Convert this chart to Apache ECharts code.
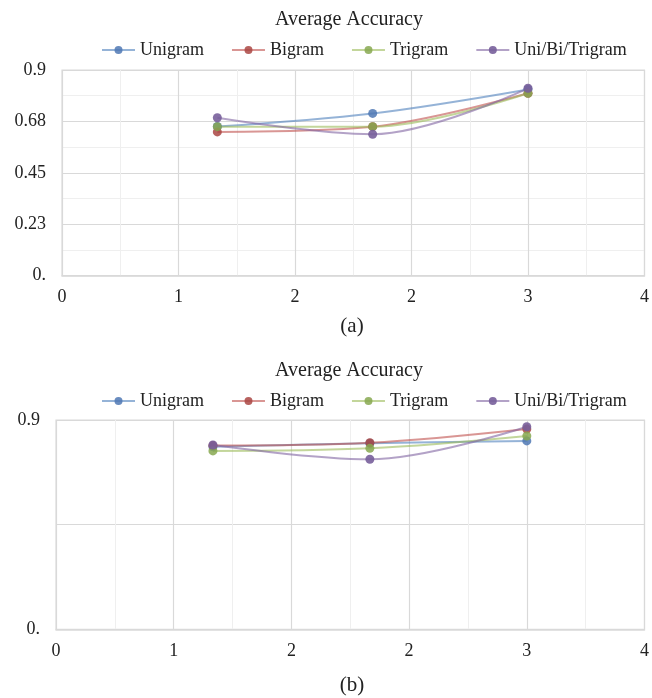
<!DOCTYPE html>
<html><head><meta charset="utf-8">
<script src="https://cdn.jsdelivr.net/npm/echarts@6/dist/echarts.min.js"></script>
<style>html,body{margin:0;padding:0;background:#fff;}#c{width:652px;height:698px;}</style>
</head><body><div id="c"></div>
<script>
const seriesNames = ['Unigram', 'Bigram', 'Trigram', 'Uni/Bi/Trigram'];
const xValues = [1, 2, 3];
const xTickLabels = ['0', '1', '2', '2', '3', '4'];
const yTickLabelsA = ['0.', '0.23', '0.45', '0.68', '0.9'];
const yTickLabelsB = ['0.', '', '0.9'];
const panelA = {
  'Unigram':        [0.653, 0.710, 0.815],
  'Bigram':         [0.629, 0.652, 0.798],
  'Trigram':        [0.652, 0.652, 0.798],
  'Uni/Bi/Trigram': [0.691, 0.619, 0.820]
};
const panelB = {
  'Unigram':        [0.785, 0.800, 0.810],
  'Bigram':         [0.790, 0.802, 0.861],
  'Trigram':        [0.767, 0.778, 0.831],
  'Uni/Bi/Trigram': [0.7925, 0.731, 0.871]
};
const lineColors = ['rgba(79,129,189,0.6)', 'rgba(192,80,77,0.6)', 'rgba(155,187,89,0.6)', 'rgba(128,100,162,0.6)'];
const markColors = ['rgba(79,120,180,0.85)', 'rgba(170,70,67,0.85)', 'rgba(135,168,80,0.85)', 'rgba(120,95,155,0.9)'];

const font = 'Liberation Serif';
const chart = echarts.init(document.getElementById('c'));

function xAxis(gi) {
  return {
    type: 'value', gridIndex: gi, min: 0, max: 3.75, interval: 0.75,
    axisLine: {show: true, lineStyle: {color: '#d9d9d9', width: 1.5}},
    axisTick: {show: false},
    axisLabel: {color: '#222', fontFamily: font, fontSize: 18, margin: 13,
      formatter: v => xTickLabels[Math.round(v / 0.75)]},
    splitLine: {show: true, lineStyle: {color: '#d9d9d9', width: 1.2}},
    minorTick: {show: false, splitNumber: 2},
    minorSplitLine: {show: true, lineStyle: {color: '#efefef', width: 1}}
  };
}
function yAxis(gi, interval, labels, minor) {
  return {
    type: 'value', gridIndex: gi, min: 0, max: 0.9, interval: interval,
    axisLine: {show: false}, axisTick: {show: false},
    axisLabel: {color: '#222', fontFamily: font, fontSize: 18, margin: 16,
      formatter: v => labels[Math.round(v / interval)]},
    splitLine: {show: true, lineStyle: {color: '#d9d9d9', width: 1.2}},
    minorTick: {show: false, splitNumber: 2},
    minorSplitLine: {show: minor, lineStyle: {color: '#efefef', width: 1}}
  };
}
const series = [];
[panelA, panelB].forEach((p, gi) => {
  seriesNames.forEach((n, i) => {
    series.push({
      name: n, type: 'line', xAxisIndex: gi, yAxisIndex: gi,
      data: xValues.map((x, k) => [x, p[n][k]]),
      smooth: 0.35, symbol: 'circle', symbolSize: 9,
      lineStyle: {color: lineColors[i], width: 2},
      itemStyle: {color: markColors[i]},
      color: markColors[i]
    });
  });
});
const legendBase = {
  data: seriesNames, left: 96, itemWidth: 33, itemHeight: 10, itemGap: 27,
  textStyle: {fontFamily: font, fontSize: 18, color: '#222'}
};
const titleStyle = {fontFamily: font, fontSize: 20, fontWeight: 'normal', color: '#222'};
const capStyle = {fontFamily: font, fontSize: 21, fontWeight: 'normal', color: '#222'};
chart.setOption({
  animation: false,
  title: [
    {text: 'Average Accuracy', left: 344, top: 5, textAlign: 'center', textStyle: titleStyle},
    {text: 'Average Accuracy', left: 344, top: 356, textAlign: 'center', textStyle: titleStyle},
    {text: '(a)', left: 347, top: 311, textAlign: 'center', textStyle: capStyle},
    {text: '(b)', left: 347, top: 670, textAlign: 'center', textStyle: capStyle}
  ],
  legend: [
    Object.assign({top: 36}, legendBase),
    Object.assign({top: 387}, legendBase)
  ],
  grid: [
    {left: 62, right: 4, top: 70, height: 205.7, show: true, borderColor: '#d9d9d9', borderWidth: 1.2},
    {left: 56, right: 7, top: 420, height: 209.3, show: true, borderColor: '#d9d9d9', borderWidth: 1.2}
  ],
  xAxis: [xAxis(0), xAxis(1)],
  yAxis: [yAxis(0, 0.225, yTickLabelsA, true), yAxis(1, 0.45, yTickLabelsB, false)],
  series: series
});
</script></body></html>
